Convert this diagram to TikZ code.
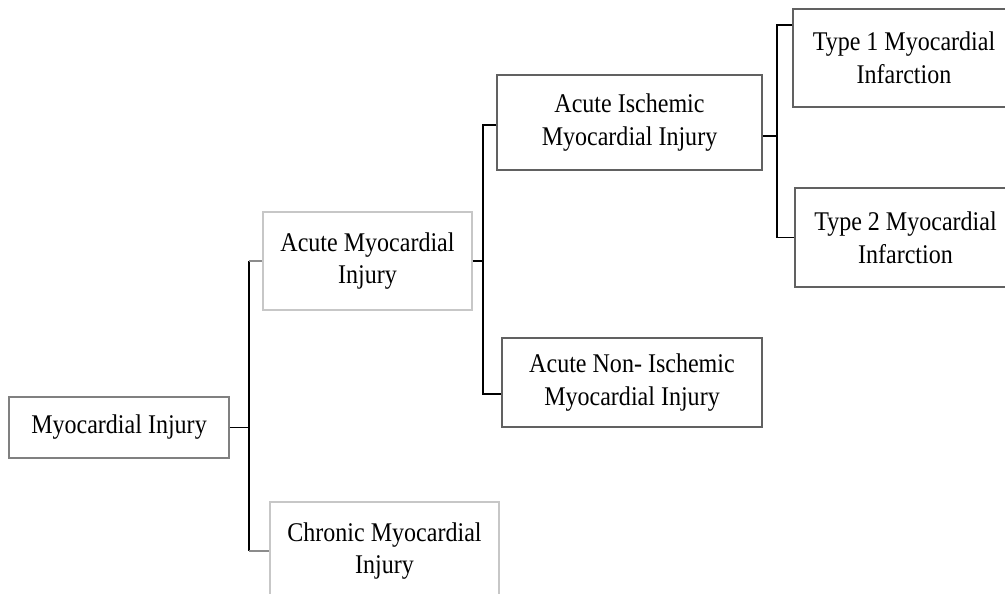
\documentclass[tikz,border=0pt]{standalone}
\usepackage{fontspec}
\setmainfont{Liberation Serif}[FakeStretch=0.89]
\begin{document}
\begin{tikzpicture}[x=1pt,y=-1pt,
  box/.style={draw, line width=1.3pt, inner sep=0pt, align=center,
    font=\fontsize{27}{33}\selectfont, text=black},
  darkbox/.style={box, draw=black!62},
  midbox/.style={box, draw=black!50},
  lightbox/.style={box, draw=black!22},
  conn/.style={draw=black, line width=1.4pt},
  stub/.style={draw=black!45, line width=1.4pt}]
\useasboundingbox (0,0) rectangle (1005,594);
\clip (0,0) rectangle (1005,594);
\fill[white] (0,0) rectangle (1005,594);

\node[midbox, minimum width=220pt, minimum height=61pt] (mi) at (119,427.5) {Myocardial Injury};
\node[lightbox, minimum width=209pt, minimum height=98pt] (ami) at (367.5,261) {Acute Myocardial\\[-1pt]Injury};
\node[lightbox, minimum width=229pt, minimum height=98pt] (cmi) at (384.5,551) {Chronic Myocardial\\[-1pt]Injury};
\node[darkbox, minimum width=265pt, minimum height=95pt] (aimi) at (629.5,122.5) {Acute Ischemic\\Myocardial Injury};
\node[darkbox, minimum width=260pt, minimum height=89pt] (animi) at (632,382.5) {Acute Non- Ischemic\\Myocardial Injury};
\node[darkbox, minimum width=222pt, minimum height=98pt] (t1) at (904,58) {Type 1 Myocardial\\Infarction};
\node[darkbox, minimum width=221pt, minimum height=99pt] (t2) at (905.5,237.5) {Type 2 Myocardial\\Infarction};

\coordinate (j1) at (249,427.5);
\coordinate (j1a) at (249,261);
\coordinate (j1b) at (249,551);
\coordinate (j2) at (483,261);
\coordinate (j3) at (777,136);

\draw[conn] (mi.east) -- (j1);
\draw[conn] (j1a) -- (j1b);
\draw[stub] (j1a) -- (ami.west);
\draw[stub] (j1b) -- (cmi.west);

\draw[conn] (ami.east) -- (j2);
\draw[conn] ([yshift=-2.5pt]aimi.west) -| (j2) |- ([yshift=-11.5pt]animi.west);

\draw[conn] ([yshift=-13.5pt]aimi.east) -- (j3);
\draw[conn] ([yshift=33pt]t1.west) -| (j3) |- (t2.west);
\end{tikzpicture}
\end{document}
